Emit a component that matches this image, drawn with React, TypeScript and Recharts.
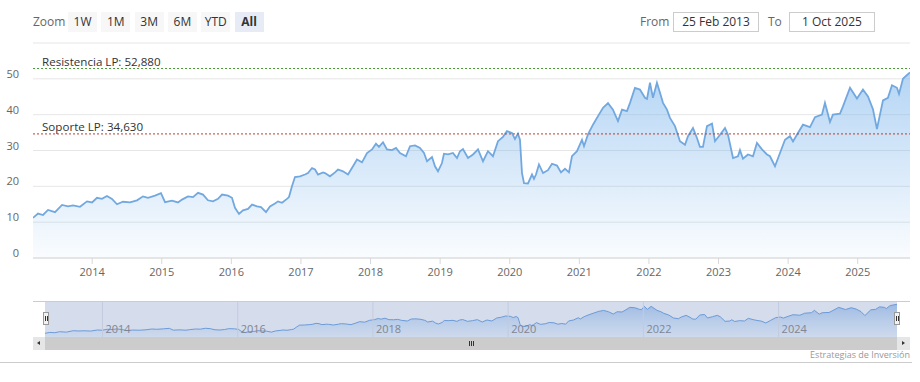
import { AreaChart, Area, XAxis, YAxis, CartesianGrid, ReferenceLine } from "recharts";

// decimal years
const dates = [
  2013.15, 2013.222, 2013.294, 2013.366, 2013.466, 2013.567, 2013.653, 2013.725, 2013.825, 2013.926,
  2013.998, 2014.07, 2014.141, 2014.213, 2014.285, 2014.357, 2014.443, 2014.544, 2014.644, 2014.731,
  2014.802, 2014.903, 2014.989, 2015.047, 2015.147, 2015.233, 2015.291, 2015.377, 2015.449, 2015.521,
  2015.593, 2015.664, 2015.736, 2015.808, 2015.866, 2015.952, 2016.009, 2016.052, 2016.11, 2016.167,
  2016.239, 2016.297, 2016.368, 2016.426, 2016.498, 2016.555, 2016.627, 2016.67, 2016.728, 2016.799,
  2016.828, 2016.871, 2016.914, 2016.986, 2017.058, 2017.101, 2017.159, 2017.202, 2017.245, 2017.317,
  2017.345, 2017.417, 2017.489, 2017.532, 2017.604, 2017.676, 2017.748, 2017.805, 2017.877, 2017.949,
  2018.021, 2018.078, 2018.121, 2018.179, 2018.236, 2018.308, 2018.366, 2018.423, 2018.509, 2018.567,
  2018.639, 2018.71, 2018.768, 2018.811, 2018.883, 2018.926, 2018.969, 2019.026, 2019.055, 2019.113,
  2019.184, 2019.242, 2019.285, 2019.328, 2019.4, 2019.472, 2019.544, 2019.616, 2019.687, 2019.759,
  2019.831, 2019.903, 2019.96, 2020.032, 2020.075, 2020.118, 2020.147, 2020.176, 2020.205, 2020.262,
  2020.32, 2020.348, 2020.377, 2020.42, 2020.478, 2020.549, 2020.607, 2020.679, 2020.736, 2020.794,
  2020.851, 2020.894, 2020.966, 2021.038, 2021.067, 2021.124, 2021.196, 2021.268, 2021.34, 2021.412,
  2021.483, 2021.555, 2021.613, 2021.684, 2021.728, 2021.799, 2021.871, 2021.943, 2021.972, 2022.015,
  2022.058, 2022.115, 2022.159, 2022.202, 2022.259, 2022.302, 2022.374, 2022.446, 2022.518, 2022.561,
  2022.633, 2022.69, 2022.733, 2022.776, 2022.834, 2022.906, 2022.949, 2023.021, 2023.093, 2023.136,
  2023.208, 2023.279, 2023.308, 2023.351, 2023.423, 2023.495, 2023.552, 2023.624, 2023.696, 2023.739,
  2023.811, 2023.883, 2023.955, 2024.026, 2024.07, 2024.141, 2024.213, 2024.314, 2024.386, 2024.486,
  2024.529, 2024.601, 2024.644, 2024.745, 2024.788, 2024.889, 2024.989, 2025.075, 2025.147, 2025.219,
  2025.276, 2025.363, 2025.434, 2025.492, 2025.564, 2025.593, 2025.65, 2025.693, 2025.751,
];

const prices = [
  11.2, 12.4, 12.0, 13.4, 12.8, 14.8, 14.4, 14.7, 14.3, 15.8,
  15.5, 16.8, 16.5, 17.3, 16.5, 15.0, 15.7, 15.5, 16.1, 17.2,
  16.8, 17.4, 18.1, 15.6, 16.0, 15.5, 16.3, 17.2, 17.0, 18.2,
  17.7, 16.1, 15.8, 16.5, 17.7, 17.4, 16.8, 14.0, 12.3, 13.3,
  13.7, 14.9, 14.4, 14.2, 12.8, 14.4, 15.2, 15.8, 15.4, 16.5,
  17.0, 20.0, 22.6, 22.8, 23.3, 23.7, 25.1, 24.7, 23.3, 23.9,
  23.7, 22.8, 23.9, 24.7, 24.2, 23.3, 25.6, 27.5, 26.7, 29.3,
  30.3, 31.9, 31.0, 32.3, 30.3, 30.1, 30.7, 29.3, 28.4, 31.2,
  31.4, 30.7, 29.3, 27.0, 28.2, 25.6, 24.2, 26.5, 29.1, 28.9,
  29.3, 27.9, 29.8, 30.4, 27.9, 28.9, 30.3, 27.0, 29.8, 28.4,
  32.6, 33.8, 35.4, 34.9, 33.2, 34.7, 33.0, 23.7, 20.9, 20.8,
  23.3, 22.1, 23.3, 26.1, 23.7, 24.5, 26.3, 25.8, 23.9, 24.9,
  23.9, 28.4, 29.8, 33.0, 31.2, 34.5, 37.2, 39.6, 41.9, 43.2,
  41.4, 38.2, 41.4, 41.0, 43.3, 47.5, 47.0, 44.7, 44.4, 48.9,
  44.7, 48.9, 46.1, 43.3, 41.4, 39.1, 36.8, 32.6, 31.6, 34.0,
  36.3, 33.5, 31.0, 31.0, 36.8, 37.5, 32.6, 34.4, 36.3, 34.4,
  27.9, 28.4, 30.1, 27.7, 28.9, 28.4, 32.1, 30.3, 28.9, 28.4,
  25.6, 29.3, 33.0, 34.0, 32.5, 34.9, 37.2, 36.5, 39.3, 40.0,
  43.3, 38.0, 40.0, 40.3, 42.3, 47.5, 44.5, 47.0, 45.1, 41.5,
  36.0, 44.0, 44.7, 48.2, 47.5, 45.8, 50.0, 50.8, 51.8,
];

const yearTicks = [2014, 2015, 2016, 2017, 2018, 2019, 2020, 2021, 2022, 2023, 2024, 2025];
const navYearTicks = [2014, 2016, 2018, 2020, 2022, 2024];
const priceTicks = [0, 10, 20, 30, 40, 50, 60];
const zoomButtons = ["1W", "1M", "3M", "6M", "YTD", "All"];
const resistance = 52.88;
const support = 34.63;
const resistanceLabel = "Resistencia LP: 52,880";
const supportLabel = "Soporte LP: 34,630";
const fromDate = "25 Feb 2013";
const toDate = "1 Oct 2025";

const data = dates.map((t, i) => ({ t, price: prices[i] }));

const FONT = "'Open Sans', 'DejaVu Sans', sans-serif";
const X_DOMAIN = [2013.15, 2025.751];

function YTick(props: any) {
  const { y, payload } = props;
  if (payload.value === 60) return null;
  return (
    <text x={19} y={y - 1} textAnchor="end" fontSize={11} fill="#666" fontFamily={FONT}>
      {payload.value}
    </text>
  );
}

function XTick(props: any) {
  const { x, y, payload } = props;
  return (
    <text x={x} y={y + 10} textAnchor="middle" fontSize={11} fill="#666" fontFamily={FONT}>
      {payload.value}
    </text>
  );
}

function LineLabel(props: any, text: string) {
  const { viewBox } = props;
  return (
    <text x={42} y={viewBox.y - 3} fontSize={11.6} fill="#333" fontFamily={FONT}>
      {text}
    </text>
  );
}

function Handle({ left }: { left: number }) {
  return (
    <div
      style={{
        position: "absolute",
        left,
        top: 312,
        width: 6,
        height: 13,
        background: "#f2f2f2",
        border: "1px solid #999",
        boxSizing: "border-box",
      }}
    >
      <div style={{ position: "absolute", left: 1, top: 3, width: 1, height: 5, background: "#333" }} />
      <div style={{ position: "absolute", left: 3, top: 3, width: 1, height: 5, background: "#333" }} />
    </div>
  );
}

const boxStyle = {
  position: "absolute" as const,
  top: 12,
  width: 86,
  height: 20,
  lineHeight: "18px",
  border: "1px solid #ccc",
  boxSizing: "border-box" as const,
  textAlign: "center" as const,
  fontSize: 12,
  color: "#333",
};

export default function App() {
  return (
    <div style={{ position: "relative", width: 920, height: 382, fontFamily: FONT, background: "#fff" }}>
      <style>{"body{margin:0}"}</style>

      {/* range selector */}
      <div style={{ position: "absolute", left: 33, top: 13, fontSize: 12, color: "#666", lineHeight: "18px" }}>
        Zoom
      </div>
      {zoomButtons.map((b, i) => (
        <div
          key={b}
          style={{
            position: "absolute",
            left: 68 + i * 33.3,
            top: 12,
            width: 29,
            height: 20,
            lineHeight: "20px",
            textAlign: "center",
            fontSize: 12,
            color: "#333",
            background: b === "All" ? "#e6ebf5" : "#f7f7f7",
            fontWeight: b === "All" ? 700 : 400,
          }}
        >
          {b}
        </div>
      ))}
      <div style={{ position: "absolute", left: 640, top: 13, fontSize: 12, color: "#666", lineHeight: "18px" }}>
        From
      </div>
      <div style={{ ...boxStyle, left: 673 }}>{fromDate}</div>
      <div style={{ position: "absolute", left: 768, top: 13, fontSize: 12, color: "#666", lineHeight: "18px" }}>
        To
      </div>
      <div style={{ ...boxStyle, left: 789 }}>{toDate}</div>

      {/* main chart */}
      <div style={{ position: "absolute", left: 0, top: 0 }}>
        <AreaChart width={920} height={290} data={data} margin={{ top: 43, right: 10, left: 0, bottom: 0 }}>
          <defs>
            <linearGradient id="mainFill" x1="0" y1="0" x2="0" y2="1">
              <stop offset="0%" stopColor="#7cb5ec" stopOpacity={0.95} />
              <stop offset="100%" stopColor="#7cb5ec" stopOpacity={0.06} />
            </linearGradient>
          </defs>
          <CartesianGrid vertical={false} stroke="#e6e6e6" />
          <XAxis
            dataKey="t"
            type="number"
            domain={X_DOMAIN}
            ticks={yearTicks}
            allowDataOverflow
            height={32}
            stroke="#d8d8d8"
            tickSize={6}
            tick={<XTick />}
          />
          <YAxis
            domain={[0, 60]}
            ticks={priceTicks}
            width={33}
            axisLine={false}
            tickLine={false}
            tick={<YTick />}
          />
          <ReferenceLine
            y={resistance}
            stroke="#4c9a3c"
            strokeDasharray="2 2"
            label={(p: any) => LineLabel(p, resistanceLabel)}
          />
          <ReferenceLine
            y={support}
            stroke="#c0392b"
            strokeDasharray="2 2"
            label={(p: any) => LineLabel(p, supportLabel)}
          />
          <Area
            type="linear"
            dataKey="price"
            stroke="#72a8e0"
            strokeWidth={1.8}
            fill="url(#mainFill)"
            isAnimationActive={false}
            dot={false}
            activeDot={false}
          />
        </AreaChart>
      </div>

      {/* navigator */}
      <div style={{ position: "absolute", left: 33, top: 301, width: 877, height: 1, background: "#ccc" }} />
      <div style={{ position: "absolute", left: 45, top: 302, width: 852, height: 35, background: "#d5dcec" }} />
      <div style={{ position: "absolute", left: 45, top: 302 }}>
        <AreaChart width={852} height={35} data={data} margin={{ top: 0, right: 0, left: 0, bottom: 0 }}>
          <defs>
            <linearGradient id="navFill" x1="0" y1="0" x2="0" y2="1">
              <stop offset="0%" stopColor="#5b8fd6" stopOpacity={0.75} />
              <stop offset="100%" stopColor="#7cb5ec" stopOpacity={0.15} />
            </linearGradient>
          </defs>
          <XAxis dataKey="t" type="number" domain={X_DOMAIN} allowDataOverflow hide />
          <YAxis domain={[6, 55]} allowDataOverflow hide />
          {navYearTicks.map((yr) => (
            <ReferenceLine
              key={yr}
              x={yr}
              stroke="#c3cbdd"
              label={(p: any) => (
                <text x={p.viewBox.x + 3} y={31} fontSize={11} fill="#808590" fontFamily={FONT}>
                  {yr}
                </text>
              )}
            />
          ))}
          <Area
            type="linear"
            dataKey="price"
            stroke="#6b9bd8"
            strokeWidth={1}
            fill="url(#navFill)"
            isAnimationActive={false}
            dot={false}
            activeDot={false}
          />
        </AreaChart>
      </div>
      <Handle left={43} />
      <Handle left={894} />

      {/* scrollbar */}
      <div style={{ position: "absolute", left: 33, top: 337, width: 877, height: 13, background: "#f2f2f2" }} />
      <div style={{ position: "absolute", left: 45, top: 337, width: 852, height: 13, background: "#cccccc" }} />
      <div style={{ position: "absolute", left: 33, top: 337, width: 12, height: 13, background: "#e6e6e6" }}>
        <div
          style={{
            position: "absolute",
            left: 4,
            top: 4,
            width: 0,
            height: 0,
            borderTop: "2.5px solid transparent",
            borderBottom: "2.5px solid transparent",
            borderRight: "3px solid #333",
          }}
        />
      </div>
      <div style={{ position: "absolute", left: 897, top: 337, width: 13, height: 13, background: "#e6e6e6" }}>
        <div
          style={{
            position: "absolute",
            left: 5,
            top: 4,
            width: 0,
            height: 0,
            borderTop: "2.5px solid transparent",
            borderBottom: "2.5px solid transparent",
            borderLeft: "3px solid #333",
          }}
        />
      </div>
      {[0, 2, 4].map((d) => (
        <div
          key={d}
          style={{ position: "absolute", left: 469 + d, top: 341, width: 1, height: 5, background: "#333" }}
        />
      ))}

      <div style={{ position: "absolute", left: 0, top: 362, width: 912, height: 1, background: "#ccc" }} />
      <div style={{ position: "absolute", right: 10, top: 349, fontSize: 9, color: "#999", lineHeight: "12px" }}>
        Estrategias de Inversión
      </div>
    </div>
  );
}
